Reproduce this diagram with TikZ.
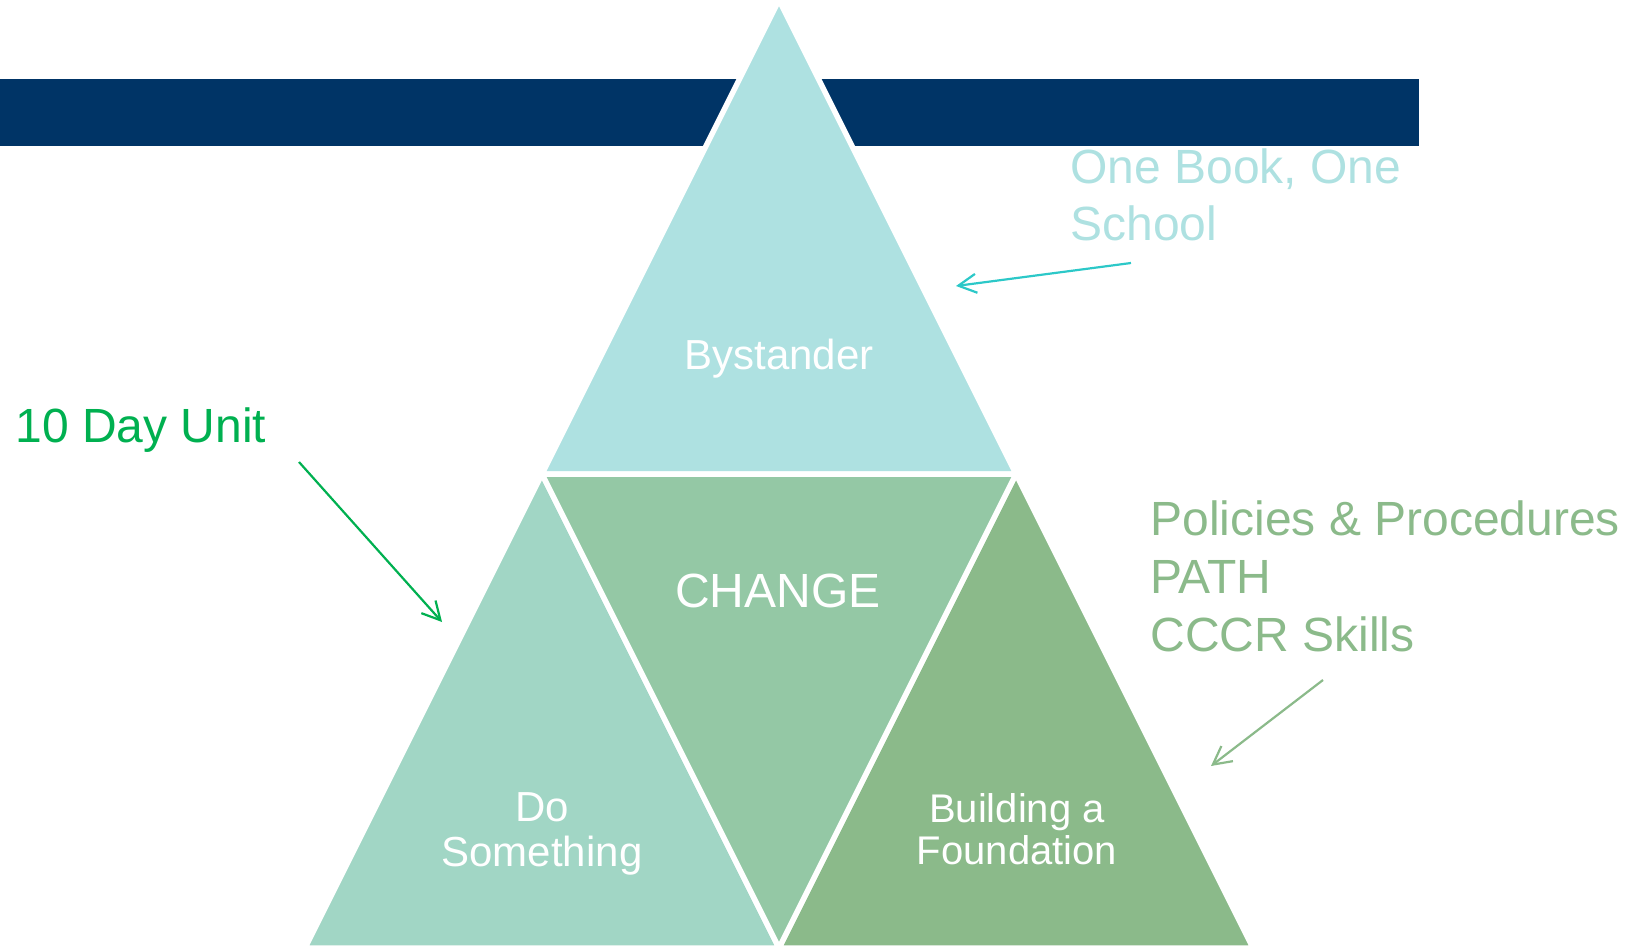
\documentclass[tikz,border=0pt]{standalone}
\usepackage{fontspec}
\setmainfont{Liberation Sans}
\usepackage{xcolor}
\usetikzlibrary{arrows.meta}

\definecolor{navy}{RGB}{0,52,102}
\definecolor{tritop}{RGB}{174,225,225}
\definecolor{trileft}{RGB}{161,214,197}
\definecolor{trimid}{RGB}{148,200,165}
\definecolor{triright}{RGB}{139,186,138}
\definecolor{bookarrow}{RGB}{44,200,200}
\definecolor{unitgreen}{RGB}{0,176,80}

\begin{document}
\begin{tikzpicture}[
  x=0.5pt, y=-0.5pt,
  tri/.style={draw=white, line width=2.75pt, line join=miter},
  inner/.style={text=white, align=center, inner sep=0pt},
  side/.style={align=left, inner sep=0pt, font=\fontsize{24}{28.8}\selectfont},
  arrow/.style={-{Straight Barb[length=9pt,width=9.5pt]}, line width=1.1pt}
]
\useasboundingbox (0,0) rectangle (1633,952);

\fill[navy] (0,79) rectangle (1419,146);

\coordinate (apex) at (779,0);
\coordinate (lmid) at (542,474);
\coordinate (rmid) at (1016,474);
\coordinate (bl) at (305,948);
\coordinate (bm) at (779,948);
\coordinate (br) at (1253,948);

\filldraw[tri, fill=tritop] (apex) -- (lmid) -- (rmid) -- cycle;
\filldraw[tri, fill=trileft] (lmid) -- (bl) -- (bm) -- cycle;
\filldraw[tri, fill=triright] (rmid) -- (bm) -- (br) -- cycle;
\filldraw[tri, fill=trimid] (lmid) -- (rmid) -- (bm) -- cycle;

\node[inner, font=\fontsize{21}{25}\selectfont, anchor=base] (bystander) at (779,369) {Bystander};
\node[inner, font=\fontsize{24}{29}\selectfont, anchor=base] (change) at (778,607) {CHANGE};
\node[inner, font=\fontsize{21}{22.5}\selectfont] (dosomething) at (542,834) {Do\\Something};
\node[inner, font=\fontsize{20}{21}\selectfont] (foundation) at (1017,829) {Building a\\Foundation};

\node[side, text=tritop, anchor=north west] (book) at (1070,148) {One Book, One\\School};
\node[side, text=unitgreen, anchor=base west] (unit) at (15,442) {10 Day Unit};
\node[side, text=triright, anchor=north west, font=\fontsize{24}{29}\selectfont] (policies) at (1150,500) {Policies \& Procedures\\PATH\\CCCR Skills};

\coordinate (booktail) at (1131,263);
\coordinate (booktip) at (956,286);
\coordinate (unittail) at (299,462);
\coordinate (unittip) at (442,622);
\coordinate (policytail) at (1323,680);
\coordinate (policytip) at (1211,766);

\draw[arrow, bookarrow] (booktail) -- (booktip);
\draw[arrow, unitgreen] (unittail) -- (unittip);
\draw[arrow, triright] (policytail) -- (policytip);
\end{tikzpicture}
\end{document}
